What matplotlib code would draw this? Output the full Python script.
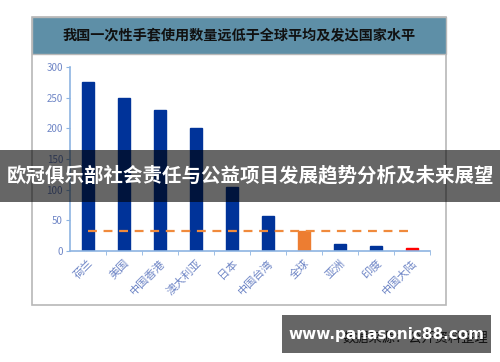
import matplotlib
matplotlib.use('Agg')
import matplotlib.pyplot as plt
from matplotlib.patches import Rectangle

plt.rcParams['font.family'] = ['Noto Sans CJK SC', 'DejaVu Sans']

# data
regions = ['荷兰', '美国', '中国香港', '澳大利亚', '日本', '中国台湾', '全球', '亚洲', '印度', '中国大陆']
usage = [275, 249, 230, 200, 105, 57, 33, 11, 8, 5]
global_avg = [33] * len(regions)
bar_colors = ['#003399'] * 6 + ['#ED7D31'] + ['#003399'] * 2 + ['#FF0000']

title = '我国一次性手套使用数量远低于全球平均及发达国家水平'
banner = '欧冠俱乐部社会责任与公益项目发展趋势分析及未来展望'
source = '数据来源：公开资料整理'
url = 'www.panasonic88.com'

W, H = 500, 362
fig = plt.figure(figsize=(5, 3.62), dpi=100)

def fx(px):
    return px / W

def fy(py):
    return 1 - py / H

# outer frame and title band
fig.patches.append(Rectangle((fx(32), fy(305)), fx(414), 288 / H, transform=fig.transFigure,
                             facecolor='white', edgecolor='#B8B8B8', lw=1.2, zorder=0))
fig.patches.append(Rectangle((fx(32), fy(54)), fx(414), 37 / H, transform=fig.transFigure,
                             facecolor='#5E8FA7', edgecolor='#B8B8B8', lw=1.0, zorder=0))
fig.text(fx(239), fy(35), title, ha='center', va='center', fontsize=10.2, fontweight='bold', color='#111111')

ax = fig.add_axes([fx(70), fy(251), fx(360), 184 / H])
ax.set_zorder(2)
x = range(len(regions))
ax.bar(x, usage, width=0.32, color=bar_colors, edgecolor=bar_colors, zorder=2)
ax.plot(x, global_avg, color='#F08A3C', lw=1.6, dashes=(4, 3), zorder=3)

ax.set_xlim(-0.5, len(regions) - 0.5)
ax.set_ylim(0, 300)
ax.set_yticks(range(0, 301, 50))
ax.set_xticks(list(x))
ax.set_xticklabels(regions, rotation=45, ha='right', va='top', rotation_mode='anchor')
ax.set_xticks([i + 0.5 for i in range(len(regions))], minor=True)

axis_col = '#8DB4E2'
lab_col = '#6F86C6'
for s in ['top', 'right']:
    ax.spines[s].set_visible(False)
for s in ['left', 'bottom']:
    ax.spines[s].set_color(axis_col)
    ax.spines[s].set_linewidth(1.2)
ax.tick_params(axis='y', colors=axis_col, labelcolor=lab_col, labelsize=7, length=3, pad=2)
ax.tick_params(axis='x', which='major', length=0, labelcolor=lab_col, labelsize=8, pad=5)
ax.tick_params(axis='x', which='minor', length=3, color=axis_col)
ax.set_facecolor('none')

# overlay banner and watermark
fig.patches.append(Rectangle((0, fy(202)), 1, 52 / H, transform=fig.transFigure,
                             facecolor='black', alpha=0.6, zorder=5))
fig.text(0.5, fy(176), banner, ha='center', va='center', fontsize=14, fontweight='bold',
         color='white', zorder=6)

fig.text(fx(488), fy(338), source, ha='right', va='center', fontsize=9.5, color='#222222', zorder=4)
fig.patches.append(Rectangle((fx(282), fy(353)), fx(209), 38 / H, transform=fig.transFigure,
                             facecolor='black', alpha=0.6, zorder=5))
fig.text(fx(386), fy(334), url, ha='center', va='center', fontsize=11, fontweight='bold',
         color='white', family=['DejaVu Sans'], zorder=6)

fig.savefig('out.png', dpi=100)
